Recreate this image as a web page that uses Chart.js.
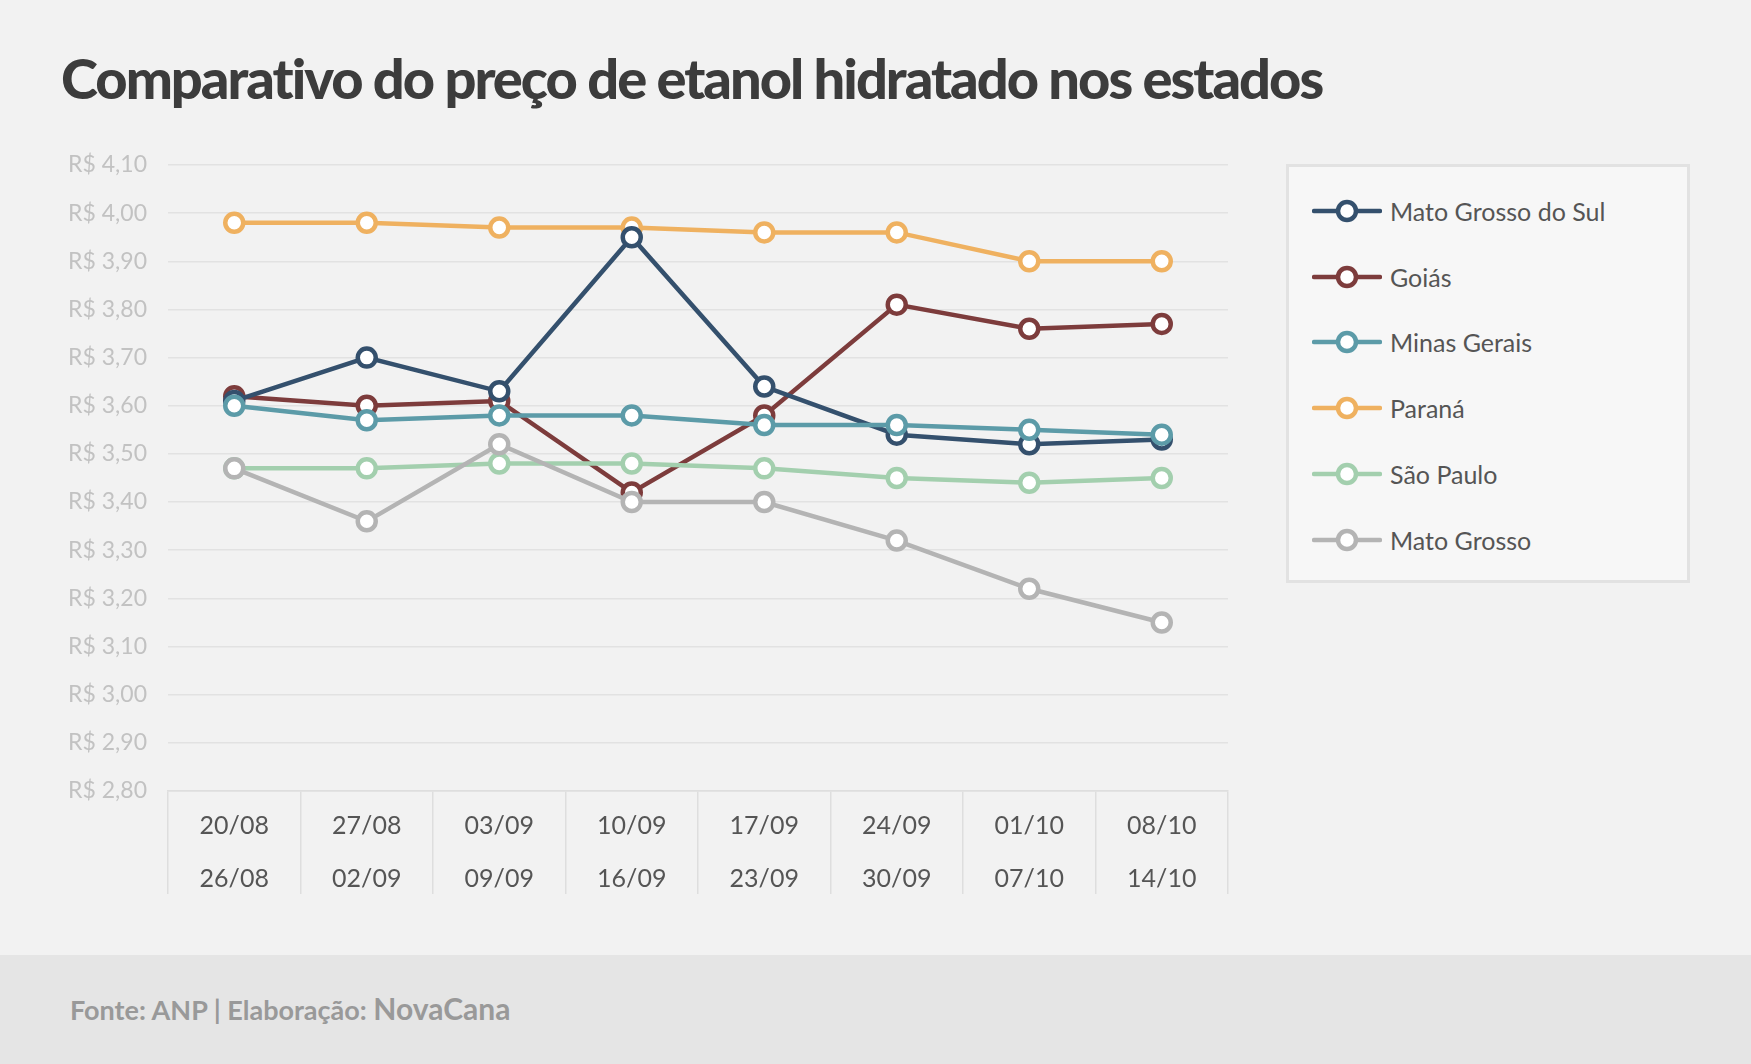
<!DOCTYPE html>
<html>
<head>
<meta charset="utf-8">
<script src="https://cdn.jsdelivr.net/npm/chart.js@4.4.0/dist/chart.umd.min.js"></script>
<style>
  html, body { margin: 0; padding: 0; }
  body { width: 1751px; height: 1064px; background: #f2f2f2; position: relative; overflow: hidden; font-family: Lato, sans-serif; }
  #title { position: absolute; left: 61px; top: 44px; font-size: 56px; font-weight: 900; color: #3c3c3c; letter-spacing: -2px; white-space: nowrap; }
  #wrap { position: absolute; left: 0; top: 0; width: 1751px; height: 955px; }
  #legend { position: absolute; left: 1286px; top: 164px; width: 398px; height: 413px; background: #f7f7f7; border: 3px solid #e2e2e2; }
  .item { position: absolute; left: 23px; height: 30px; display: flex; align-items: center; font-size: 25px; color: #555; white-space: nowrap; }
  .item svg { margin-right: 8px; }
  #footer { position: absolute; left: 0; top: 955px; width: 1751px; height: 109px; background: #e5e5e5; }
  #source { position: absolute; left: 70px; top: 35px; color: #999; font-weight: 700; font-size: 27px; white-space: nowrap; }
  #source span { font-size: 30px; }
</style>
</head>
<body>
<div id="title">Comparativo do preço de etanol hidratado nos estados</div>
<div id="wrap"><canvas id="myChart"></canvas></div>
<div id="legend"></div>
<div id="footer"><div id="source">Fonte: ANP | Elaboração: <span>NovaCana</span></div></div>
<script>
var weeks = [["20/08", "26/08"], ["27/08", "02/09"], ["03/09", "09/09"], ["10/09", "16/09"],
             ["17/09", "23/09"], ["24/09", "30/09"], ["01/10", "07/10"], ["08/10", "14/10"]];

var matoGrossoDoSul = [3.61, 3.70, 3.63, 3.95, 3.64, 3.54, 3.52, 3.53];
var goias           = [3.62, 3.60, 3.61, 3.42, 3.58, 3.81, 3.76, 3.77];
var minasGerais     = [3.60, 3.57, 3.58, 3.58, 3.56, 3.56, 3.55, 3.54];
var parana          = [3.98, 3.98, 3.97, 3.97, 3.96, 3.96, 3.90, 3.90];
var saoPaulo        = [3.47, 3.47, 3.48, 3.48, 3.47, 3.45, 3.44, 3.45];
var matoGrosso      = [3.47, 3.36, 3.52, 3.40, 3.40, 3.32, 3.22, 3.15];

var yMin = 2.8, yMax = 4.1, yStep = 0.1;

function serie(label, data, color, order) {
    return {
        label: label,
        data: data,
        borderColor: color,
        backgroundColor: '#ffffff',
        borderWidth: 4.5,
        pointRadius: 9,
        pointBorderWidth: 4.5,
        pointBackgroundColor: '#ffffff',
        pointBorderColor: color,
        tension: 0,
        order: order
    };
}

var datasets = [
    serie('Mato Grosso do Sul', matoGrossoDoSul, '#34506d', 4),
    serie('Goiás', goias, '#7d3c3c', 5),
    serie('Minas Gerais', minasGerais, '#5c9ba8', 2),
    serie('Paraná', parana, '#efb160', 6),
    serie('São Paulo', saoPaulo, '#a3cfae', 3),
    serie('Mato Grosso', matoGrosso, '#b4b4b4', 1)
];

var ctx = document.getElementById('myChart').getContext('2d');
var chart = new Chart(ctx, {
    type: 'line',
    data: { labels: weeks, datasets: datasets },
    options: {
        responsive: true,
        maintainAspectRatio: false,
        animation: false,
        events: [],
        layout: { padding: { left: 0, right: 523, top: 165, bottom: 54 } },
        plugins: { legend: { display: false }, tooltip: { enabled: false } },
        scales: {
            x: {
                offset: true,
                grid: { offset: true, drawOnChartArea: false, drawTicks: true, tickLength: 103, color: '#dedede', lineWidth: 1.5 },
                border: { color: '#dedede', width: 1.5 },
                ticks: { color: '#555', padding: -95, font: { family: 'Lato', size: 25, lineHeight: 2.12 } },
                afterFit: function(s) { s.height = 110; }
            },
            y: {
                min: yMin, max: yMax,
                grid: { color: '#e2e2e2', lineWidth: 1.5, drawTicks: false },
                border: { display: false },
                ticks: {
                    stepSize: yStep,
                    padding: 21,
                    color: '#c2c2c2',
                    font: { family: 'Lato', size: 23 },
                    callback: function(v) { return 'R$ ' + v.toFixed(2).replace('.', ','); }
                },
                afterFit: function(s) { s.width = 168; }
            }
        }
    }
});

// legend built from the datasets
var legend = document.getElementById('legend');
datasets.forEach(function(d, i) {
    var el = document.createElement('div');
    el.className = 'item';
    el.style.top = (29 + i * 65.7) + 'px';
    el.innerHTML = '<svg width="70" height="26"><line x1="2" y1="13" x2="68" y2="13" stroke="' + d.borderColor +
        '" stroke-width="4.5" stroke-linecap="round"/><circle cx="35" cy="13" r="9" fill="#fff" stroke="' + d.borderColor +
        '" stroke-width="4.5"/></svg>' + d.label;
    legend.appendChild(el);
});
</script>
</body>
</html>
